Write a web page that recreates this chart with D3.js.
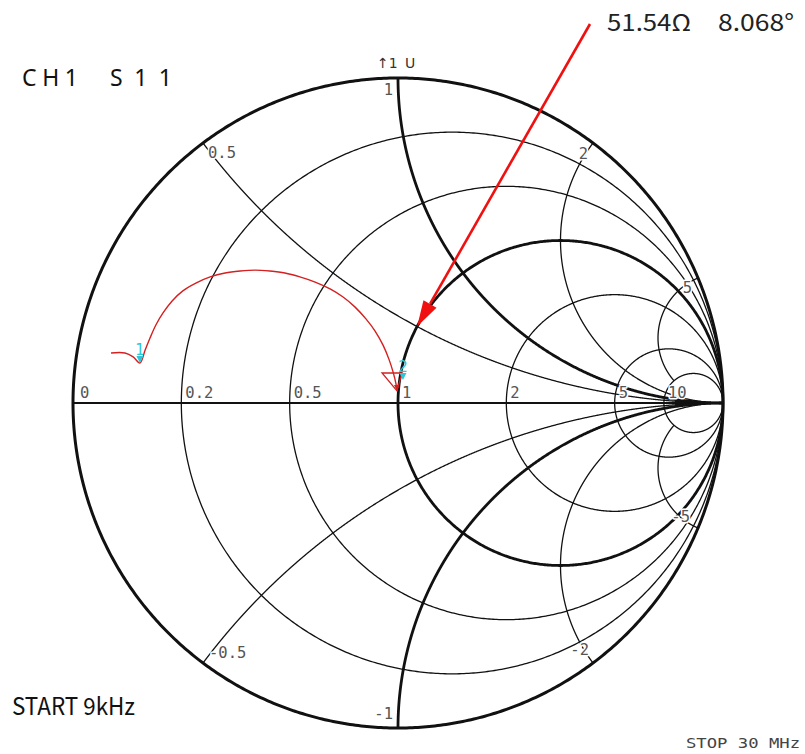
<!DOCTYPE html>
<html>
<head>
<meta charset="utf-8">
<script src="https://cdn.jsdelivr.net/npm/d3@7"></script>
<style>
  html, body { margin: 0; padding: 0; background: #fff; }
  svg { display: block; }
</style>
</head>
<body>
<svg id="chart" width="805" height="754"></svg>
<script>
// ---- Chart data -------------------------------------------------------
const Z0 = 50;
// normalized resistance circles of the grid (0 is the outer rim)
const resistanceValues = [0, 0.2, 0.5, 1, 2, 5, 10];
const resistanceLabels = ["0", "0.2", "0.5", "1", "2", "5", "10"];
// normalized reactance arcs (drawn for +x and -x)
const reactanceValues = [0.5, 1, 2, 5, -0.5, -1, -2, -5];
const reactanceLabels = ["0.5", "1", "2", "5", "-0.5", "-1", "-2", "-5"];

// S11 trace, reflection coefficient (real, imaginary), 9 kHz .. 30 MHz
const traceRe = [-0.883, -0.840, -0.815, -0.794, -0.778, -0.763, -0.745, -0.723,
  -0.695, -0.662, -0.622, -0.578, -0.532, -0.486, -0.440, -0.394, -0.348,
  -0.302, -0.255, -0.209, -0.169, -0.132, -0.098, -0.071, -0.046, -0.028,
  -0.015, -0.006, -0.003];
const traceIm = [0.154, 0.154, 0.142, 0.123, 0.163, 0.200, 0.240, 0.277,
  0.314, 0.345, 0.369, 0.388, 0.400, 0.406, 0.409, 0.406, 0.400,
  0.388, 0.372, 0.351, 0.326, 0.295, 0.258, 0.222, 0.178, 0.135,
  0.095, 0.058, 0.037];

// marker 1 sits on the trace sample at index 3; marker 2 from its readout
const marker1Index = 3;
const marker2Ohm = 51.54;      // |Z| in ohms
const marker2Deg = 8.068;      // phase in degrees
// annotation arrow points at z = 1 + j0.5
const arrowTarget = { r: 1, x: 0.5 };

const titleText = ["CH1", "S11"];
const startText = "START 9kHz";
const stopText = "STOP 30 MHz";

// ---- Scales -----------------------------------------------------------
const cx = 398, cy = 403, R = 325;
const sx = d3.scaleLinear().domain([-1, 1]).range([cx - R, cx + R]);
const sy = d3.scaleLinear().domain([-1, 1]).range([cy + R, cy - R]);

const svg = d3.select("#chart");
svg.append("rect").attr("width", 805).attr("height", 754).attr("fill", "#fff");

// z = r + jx  ->  reflection coefficient
function gamma(r, x) {
  const den = (r + 1) * (r + 1) + x * x;
  return [(r * r + x * x - 1) / den, (2 * x) / den];
}

const line = d3.line().x(d => sx(d[0])).y(d => sy(d[1]));

const grid = svg.append("g").attr("fill", "none").attr("stroke-linejoin", "round");

// constant-resistance circles
resistanceValues.forEach(r => {
  const c = r / (1 + r), rho = 1 / (1 + r);
  const pts = d3.range(0, 721).map(i => {
    const a = (i / 720) * 2 * Math.PI;
    return [c + rho * Math.cos(a), rho * Math.sin(a)];
  });
  const rim = r === 0, bold = r === 1;
  grid.append("path")
    .attr("d", line(pts))
    .attr("stroke", "#111")
    .attr("stroke-width", rim ? 3 : bold ? 2.8 : 1.3);
});

// real axis
grid.append("path")
  .attr("d", line([gamma(0, 0), [1, 0]]))
  .attr("stroke", "#111")
  .attr("stroke-width", 2.2);

// constant-reactance arcs; the |x| = 5 arcs end at the r = 10 circle
reactanceValues.forEach(x => {
  const rMax = Math.abs(x) === 5 ? 10 : Infinity;
  const tMax = isFinite(rMax) ? rMax / (1 + rMax) : 1;
  const pts = d3.range(0, 1201).map(i => {
    const t = (i / 1200) * tMax;
    if (t >= 1) return [1, 0];
    return gamma(t / (1 - t), x);
  });
  grid.append("path")
    .attr("d", line(pts))
    .attr("stroke", "#111")
    .attr("stroke-width", Math.abs(x) === 1 ? 2.8 : 1.3);
});

// ---- Grid labels (white halo keeps them clear of the grid) ------------
const labelFont = "'DejaVu Sans Mono', 'Liberation Mono', monospace";
const labels = svg.append("g")
  .attr("font-family", labelFont)
  .attr("font-size", 15.5)
  .attr("fill", "#555")
  .attr("stroke", "#fff")
  .attr("stroke-width", 3)
  .attr("paint-order", "stroke")
  .attr("stroke-linejoin", "round");

resistanceValues.forEach((r, i) => {
  const g = gamma(r, 0);
  labels.append("text")
    .attr("x", sx(g[0]) + (r === 0 ? 7 : 4))
    .attr("y", sy(0) - 5)
    .text(resistanceLabels[i]);
});

// label placement around the rim, by arc
const rimOffsets = {
  "0.5": [5, 15, "start"], "1": [-5, 17, "end"], "2": [-5, 16, "end"], "5": [-6, 15, "end"],
  "-0.5": [6, -5, "start"], "-1": [-5, -9, "end"], "-2": [-4, -8, "end"], "-5": [-8, -6, "end"]
};
reactanceValues.forEach((x, i) => {
  const g = gamma(0, x);
  const o = rimOffsets[reactanceLabels[i]];
  labels.append("text")
    .attr("x", sx(g[0]) + o[0])
    .attr("y", sy(g[1]) + o[1])
    .attr("text-anchor", o[2])
    .text(reactanceLabels[i]);
});

// reference indicator above the chart
const refInd = svg.append("g")
  .attr("font-family", "'DejaVu Sans', sans-serif")
  .attr("font-size", 14).attr("fill", "#333");
refInd.append("text").attr("x", sx(0) - 21).attr("y", sy(1) - 10).text("\u21911");
refInd.append("text").attr("x", sx(0) + 7).attr("y", sy(1) - 10).text("U");

// ---- Trace ------------------------------------------------------------
const tracePts = traceRe.map((re, i) => [re, traceIm[i]]);
const traceLine = d3.line()
  .x(d => sx(d[0])).y(d => sy(d[1]))
  .curve(d3.curveCatmullRom.alpha(0.5));
svg.append("path")
  .attr("d", traceLine(tracePts))
  .attr("fill", "none")
  .attr("stroke", "#d42020")
  .attr("stroke-width", 1.4);

// end-of-sweep indicator (open triangle at the last sample)
const last = tracePts[tracePts.length - 1];
const ex = sx(last[0]), ey = sy(last[1]);
svg.append("path")
  .attr("d", `M${ex - 15},${ey - 18}L${ex + 5},${ey - 18}L${ex},${ey}Z`)
  .attr("fill", "none").attr("stroke", "#d42020").attr("stroke-width", 1.3);
svg.append("path")
  .attr("d", `M${ex - 3},${ey - 6}L${ex + 2},${ey - 6}L${ex},${ey}Z`)
  .attr("fill", "#d42020");

// ---- Markers ----------------------------------------------------------
const zMag = marker2Ohm / Z0, zPh = marker2Deg * Math.PI / 180;
const m2 = gamma(zMag * Math.cos(zPh), zMag * Math.sin(zPh));
const m1 = tracePts[marker1Index];
const markerColor = "#2cc6d8";
[[m1, "1"], [m2, "2"]].forEach(([p, name]) => {
  const px = sx(p[0]), py = sy(p[1]);
  svg.append("path")
    .attr("d", `M${px - 3.5},${py - 7}L${px + 3.5},${py - 7}L${px},${py}Z`)
    .attr("fill", markerColor);
  svg.append("text")
    .attr("x", px).attr("y", py - 8)
    .attr("text-anchor", "middle")
    .attr("font-family", "'DejaVu Sans', sans-serif")
    .attr("font-size", 15)
    .attr("fill", markerColor)
    .text(name);
});

// ---- Readout and annotation arrow -------------------------------------
const readoutFont = "'Noto Sans CJK JP', 'Noto Sans', sans-serif";
svg.append("text")
  .attr("x", 607).attr("y", 31)
  .attr("font-family", readoutFont).attr("font-size", 23).attr("fill", "#222")
  .attr("textLength", 84).attr("lengthAdjust", "spacingAndGlyphs")
  .text(marker2Ohm.toFixed(2) + "\u03A9");
svg.append("text")
  .attr("x", 718).attr("y", 31)
  .attr("font-family", readoutFont).attr("font-size", 23).attr("fill", "#222")
  .attr("textLength", 76).attr("lengthAdjust", "spacingAndGlyphs")
  .text(marker2Deg.toFixed(3) + "\u00B0");

const tg = gamma(arrowTarget.r, arrowTarget.x);
const tx = sx(tg[0]), ty = sy(tg[1]);
const ax0 = 590, ay0 = 24;
const ang = Math.atan2(ty - ay0, tx - ax0);
const headLen = 26, headW = 7.5;
const bx = tx - headLen * Math.cos(ang), by = ty - headLen * Math.sin(ang);
svg.append("line")
  .attr("x1", ax0).attr("y1", ay0).attr("x2", bx).attr("y2", by)
  .attr("stroke", "#f01010").attr("stroke-width", 2.6);
svg.append("path")
  .attr("d", `M${tx},${ty}L${bx + headW * Math.sin(ang)},${by - headW * Math.cos(ang)}` +
             `L${bx - headW * Math.sin(ang)},${by + headW * Math.cos(ang)}Z`)
  .attr("fill", "#f01010");

// ---- Titles -----------------------------------------------------------
const titleFont = "'Noto Sans', 'DejaVu Sans', sans-serif";
svg.append("text")
  .attr("x", 22).attr("y", 86)
  .attr("font-family", titleFont).attr("font-size", 23).attr("fill", "#111")
  .attr("textLength", 56).attr("lengthAdjust", "spacing")
  .text(titleText[0]);
svg.append("text")
  .attr("x", 110).attr("y", 86)
  .attr("font-family", titleFont).attr("font-size", 23).attr("fill", "#111")
  .attr("textLength", 62).attr("lengthAdjust", "spacing")
  .text(titleText[1]);

svg.append("text")
  .attr("x", 12).attr("y", 715)
  .attr("font-family", readoutFont).attr("font-size", 24).attr("fill", "#111")
  .attr("textLength", 123).attr("lengthAdjust", "spacingAndGlyphs")
  .text(startText);

svg.append("text")
  .attr("x", 686).attr("y", 748)
  .attr("font-family", labelFont).attr("font-size", 14).attr("fill", "#444")
  .attr("textLength", 114).attr("lengthAdjust", "spacingAndGlyphs")
  .text(stopText);
</script>
</body>
</html>
